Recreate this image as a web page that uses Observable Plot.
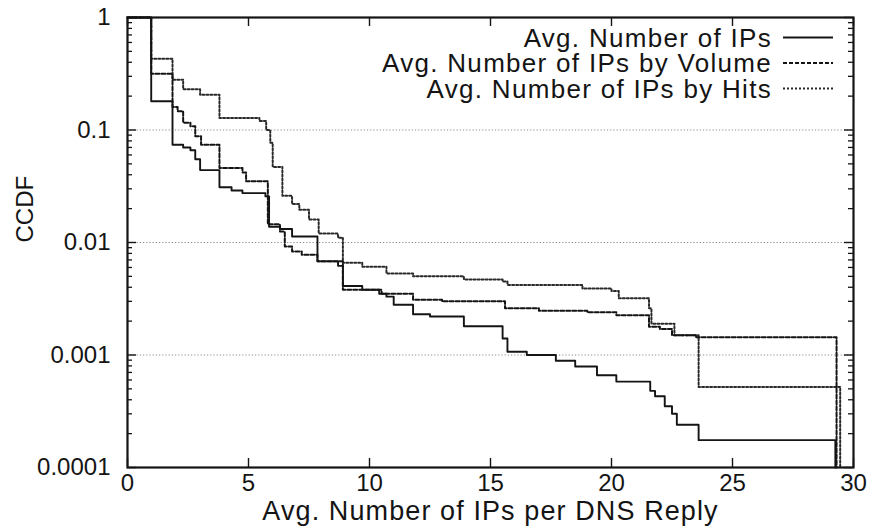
<!DOCTYPE html>
<html><head><meta charset="utf-8">
<script src="https://cdn.jsdelivr.net/npm/d3@7"></script>
<script src="https://cdn.jsdelivr.net/npm/@observablehq/plot@0.6"></script>
<style>
body{margin:0;background:#fff;}
#wrap{position:relative;width:875px;height:529px;font-family:"Liberation Sans",Arial,sans-serif;}
#legend{position:absolute;left:0;top:0;pointer-events:none;}
</style></head><body><div id="wrap"></div>
<script>
// ---- data ----
const seriesNames = ["Avg. Number of IPs", "Avg. Number of IPs by Volume", "Avg. Number of IPs by Hits"];

const ipsX = [0, 0.98, 1.86, 2.3, 2.6, 2.8, 3.0, 3.8, 4.3, 4.75, 5.7, 5.85, 6.3, 6.8, 7.85, 8.7, 8.9, 9.7, 10.4, 10.7, 11.0, 11.8, 12.5, 13.9, 15.5, 15.7, 16.5, 17.7, 18.5, 19.4, 20.2, 21.6, 21.8, 22.2, 22.5, 22.7, 23.6, 29.25];
const ipsY = [1, 0.18, 0.074, 0.07, 0.066, 0.055, 0.044, 0.031, 0.029, 0.0275, 0.0257, 0.0138, 0.0132, 0.0113, 0.0068, 0.0062, 0.0041, 0.0038, 0.0035, 0.0033, 0.0028, 0.0023, 0.0022, 0.0018, 0.0014, 0.00107, 0.001, 0.00089, 0.00079, 0.00066, 0.00058, 0.00048, 0.00043, 0.00035, 0.0003, 0.00024, 0.000175, 0.0001];

const volX = [0, 0.98, 1.86, 2.07, 2.3, 2.6, 2.8, 3.04, 3.8, 4.75, 4.9, 5.8, 6.3, 6.5, 6.8, 7.2, 7.85, 8.9, 10.5, 11.8, 13.0, 15.6, 17.0, 19.0, 20.2, 21.55, 22.0, 22.5, 23.5, 29.3];
const volY = [1, 0.317, 0.16, 0.147, 0.116, 0.108, 0.088, 0.074, 0.046, 0.042, 0.035, 0.0145, 0.0125, 0.0092, 0.0083, 0.0078, 0.0068, 0.0038, 0.0035, 0.0031, 0.0030, 0.0026, 0.00247, 0.0024, 0.00226, 0.00178, 0.0017, 0.0015, 0.00144, 0.0001];

const hitsX = [0, 0.98, 1.86, 2.3, 3.0, 3.8, 5.45, 5.73, 5.9, 6.0, 6.4, 6.8, 7.1, 7.5, 7.9, 8.7, 8.9, 9.7, 10.7, 11.8, 13.9, 15.5, 15.7, 18.8, 20.0, 20.3, 21.55, 21.65, 22.6, 23.6, 29.45];
const hitsY = [1, 0.43, 0.28, 0.23, 0.206, 0.128, 0.12, 0.1, 0.077, 0.047, 0.026, 0.022, 0.0195, 0.016, 0.012, 0.011, 0.0066, 0.0061, 0.0053, 0.005, 0.0047, 0.0045, 0.0042, 0.0039, 0.0037, 0.0032, 0.0026, 0.0019, 0.0015, 0.00052, 0.0001];

const xTicks = [0, 5, 10, 15, 20, 25, 30];
const yMajor = [0.0001, 0.001, 0.01, 0.1, 1];
const yMinor = [0.0001, 0.001, 0.01, 0.1].flatMap(d => [2,3,4,5,6,7,8,9].map(m => d * m));
const gridY = [0.1, 0.01, 0.001];
const xLabel = "Avg. Number of IPs per DNS Reply";
const yLabel = "CCDF";

// ---- build table ----
const toRows = (xs, ys, s) => xs.map((x, i) => ({series: s, x, y: ys[i]}));
const ipsRows = toRows(ipsX, ipsY, seriesNames[0]);
const volRows = toRows(volX, volY, seriesNames[1]);
const hitsRows = toRows(hitsX, hitsY, seriesNames[2]);

const W = 875, H = 529, mL = 127, mR = 22, mT = 17, mB = 62;
const innerW = W - mL - mR, innerH = H - mT - mB;
const ink = "#141414";
const styles = [
  {stroke: ink, strokeWidth: 1.9},
  {stroke: ink, strokeWidth: 2, strokeDasharray: "4,2"},
  {stroke: "#2a2a2a", strokeWidth: 2, strokeDasharray: "2,2"}
];

const chart = Plot.plot({
  width: W, height: H,
  marginLeft: mL, marginRight: mR, marginTop: mT, marginBottom: mB,
  style: {fontFamily: "'Liberation Sans', Arial, sans-serif", fontSize: "24px", color: ink, background: "white"},
  x: {domain: [0, 30]},
  y: {type: "log", domain: [0.0001, 1]},
  marks: [
    Plot.ruleY(gridY, {y: d => d, stroke: "#8a8a8a", strokeWidth: 1.2, strokeDasharray: "1.2,2"}),
    Plot.line(hitsRows, {x: "x", y: "y", curve: "step-after", ...styles[2]}),
    Plot.line(volRows, {x: "x", y: "y", curve: "step-after", ...styles[1]}),
    Plot.line(ipsRows, {x: "x", y: "y", curve: "step-after", ...styles[0]}),
    // inward ticks
    Plot.tickY(yMajor, {y: d => d, insetRight: innerW - 9, stroke: ink, strokeWidth: 1.4}),
    Plot.tickY(yMajor, {y: d => d, insetLeft: innerW - 9, stroke: ink, strokeWidth: 1.4}),
    Plot.tickY(yMinor, {y: d => d, insetRight: innerW - 5, stroke: ink, strokeWidth: 1.3}),
    Plot.tickY(yMinor, {y: d => d, insetLeft: innerW - 5, stroke: ink, strokeWidth: 1.3}),
    Plot.tickX(xTicks, {x: d => d, insetTop: innerH - 9, stroke: ink, strokeWidth: 1.4}),
    Plot.tickX(xTicks, {x: d => d, insetBottom: innerH - 9, stroke: ink, strokeWidth: 1.4}),
    Plot.frame({stroke: ink, strokeWidth: 2.2}),
    Plot.axisY({ticks: yMajor, tickSize: 0, tickPadding: 17, tickFormat: d => String(d), label: null, fontSize: 24}),
    Plot.axisX({ticks: xTicks, tickSize: 0, tickPadding: 6, tickFormat: d => String(d), label: null, fontSize: 24}),
    Plot.text([xLabel], {text: d => d, frameAnchor: "bottom", dy: 52, fontSize: 27, fill: ink}),
    Plot.text([yLabel], {text: d => d, frameAnchor: "left", dx: -102, rotate: -90, fontSize: 24, fill: ink})
  ]
});

const wrap = document.getElementById("wrap");
wrap.appendChild(chart);
// widen the axis title slightly, as in the reference
d3.select(chart).selectAll("text").filter(function() { return this.textContent === xLabel; })
  .attr("letter-spacing", "1.1px");

// ---- legend (inside the plot, top right) ----
const ns = "http://www.w3.org/2000/svg";
const leg = document.createElementNS(ns, "svg");
leg.setAttribute("id", "legend");
leg.setAttribute("width", W); leg.setAttribute("height", 120);
const textRight = 772, sx1 = 783, sx2 = 833, y0 = 37.5, step = 25.5;
seriesNames.forEach((name, i) => {
  const cy = y0 + i * step;
  const t = document.createElementNS(ns, "text");
  t.setAttribute("x", textRight); t.setAttribute("y", cy);
  t.setAttribute("dy", "0.36em");
  t.setAttribute("text-anchor", "end");
  t.setAttribute("font-family", "'Liberation Sans', Arial, sans-serif");
  t.setAttribute("font-size", "26");
  t.setAttribute("letter-spacing", "1.3px");
  t.setAttribute("fill", ink);
  t.textContent = name;
  leg.appendChild(t);
  const l = document.createElementNS(ns, "line");
  l.setAttribute("x1", sx1); l.setAttribute("x2", sx2);
  l.setAttribute("y1", cy); l.setAttribute("y2", cy);
  l.setAttribute("stroke", styles[i].stroke);
  l.setAttribute("stroke-width", styles[i].strokeWidth);
  if (styles[i].strokeDasharray) l.setAttribute("stroke-dasharray", styles[i].strokeDasharray);
  leg.appendChild(l);
});
wrap.appendChild(leg);
</script>
</body></html>
